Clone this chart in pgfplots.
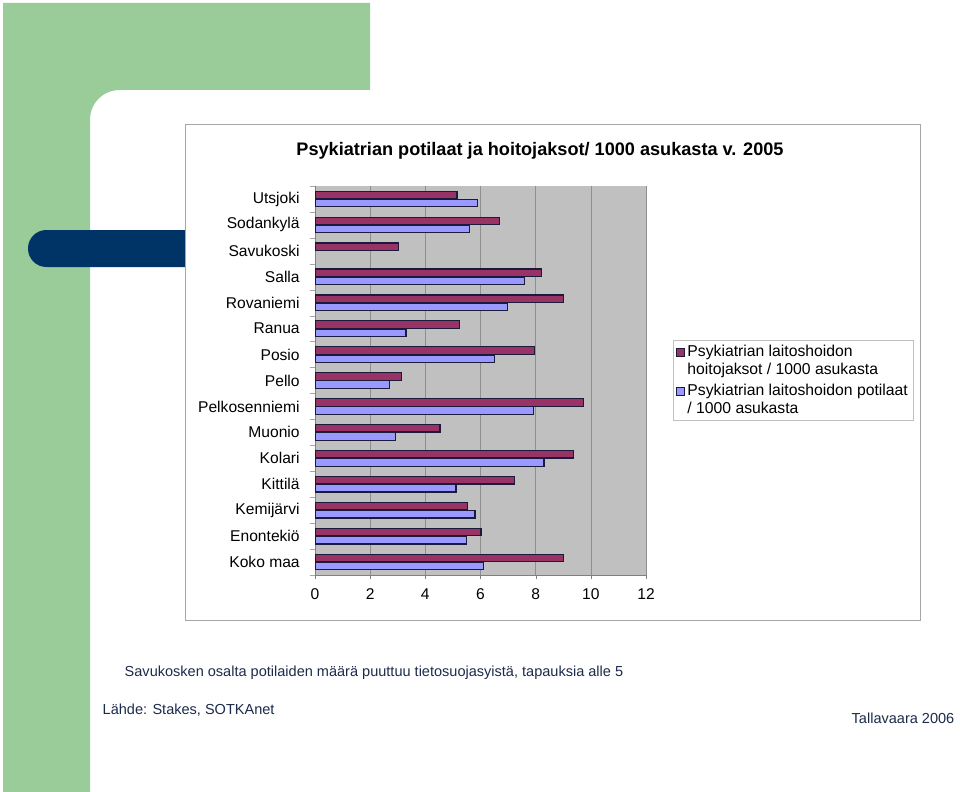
\documentclass[border=0pt]{standalone}
\usepackage{pgfplots}
\pgfplotsset{compat=1.18}
\usepackage{fontspec}
\setmainfont{Liberation Sans}
\definecolor{slidegreen}{HTML}{99CC99}
\definecolor{slideblue}{HTML}{003366}
\definecolor{barmaroon}{HTML}{993366}
\definecolor{barblue}{HTML}{9999FF}
\definecolor{plotgray}{HTML}{C0C0C0}
\definecolor{gridgray}{HTML}{8E8E8E}
\definecolor{barline}{HTML}{1A1A3A}
\definecolor{foottext}{HTML}{1C2B4A}
\begin{document}
\begin{tikzpicture}[x=0.75pt,y=-0.75pt]
% slide background
\fill[white] (0,0) rectangle (960,792);
\fill[slidegreen] (3,3) -- (370,3) -- (370,90) -- (120,90)
  .. controls (103,90) and (90,103) .. (90,120) -- (90,792) -- (3,792) -- cycle;
\fill[slideblue, rounded corners=13.8pt] (28,230) rectangle (230,267);
% chart area
\draw[fill=white, draw=gray!70] (185,124) rectangle (920,620);
\node[font=\bfseries\fontsize{13.6}{16}\selectfont] at (540,151)
  {Psykiatrian potilaat ja hoitojaksot/ 1000 asukasta v. 2005};
\coordinate (plotSW) at (315,575);

\begin{scope}[x=1pt,y=1pt]
\begin{axis}[
  at={(plotSW)}, anchor=south west,
  scale only axis, width=248.25pt, height=291.75pt,
  xbar, bar width=5.6pt,
  xmin=0, xmax=12, ymin=-0.5, ymax=14.5,
  xtick={0,2,...,12},
  ytick={0,...,14},
  yticklabels={Koko maa,Enontekiö,Kemijärvi,Kittilä,Kolari,Muonio,Pelkosenniemi,Pello,Posio,Ranua,Rovaniemi,Salla,Savukoski,Sodankylä,Utsjoki},
  minor ytick={-0.5,0.5,...,14.5},
  major y tick style={draw=none},
  minor y tick style={gray!70},
  x tick style={gray},
  tick align=outside,
  major tick length=3pt, minor tick length=4pt,
  xmajorgrids, grid style={gridgray, line width=0.5pt},
  axis background/.style={fill=plotgray},
  axis line style={gray},
  axis x line*=bottom, axis y line*=left,
  ticklabel style={font=\fontsize{11.7}{14}\selectfont},
  /pgf/number format/assume math mode=true,
  xticklabel style={yshift=-4pt},
  yticklabel style={xshift=-5pt},
  legend style={at={(1.0816,0.604)}, anchor=north west, draw=gray!50,
    font=\fontsize{11.8}{13.5}\selectfont, cells={align=left}, row sep=2pt,
    inner xsep=2pt, inner ysep=1.5pt},
  legend cell align=left,
  legend image code/.code={\draw[#1, line width=0.6pt] (0pt,3.2pt) rectangle (6pt,9.2pt);},
]
\addplot[fill=barmaroon, draw=barline, line width=0.9pt, bar shift=3.05pt] coordinates {
  (9.02,0) (6.02,1) (5.54,2) (7.22,3) (9.37,4) (4.53,5) (9.72,6) (3.13,7)
  (7.97,8) (5.25,9) (9.02,10) (8.22,11) (3.04,12) (6.69,13) (5.15,14)
};
\addlegendentry{Psykiatrian laitoshoidon\\hoitojaksot / 1000 asukasta}
\addplot[fill=barblue, draw=barline, line width=0.9pt, bar shift=-3.05pt] coordinates {
  (6.12,0) (5.49,1) (5.80,2) (5.11,3) (8.30,4) (2.91,5) (7.92,6) (2.69,7)
  (6.52,8) (3.30,9) (6.99,10) (7.60,11) (5.59,13) (5.90,14)
};
\addlegendentry{Psykiatrian laitoshoidon potilaat\\/ 1000 asukasta}
\end{axis}
\end{scope}

% footer texts
\node[anchor=west, text=foottext, font=\fontsize{10.9}{13}\selectfont] at (120,673)
  {Savukosken osalta potilaiden määrä puuttuu tietosuojasyistä, tapauksia alle 5};
\node[anchor=west, text=foottext, font=\fontsize{10.9}{13}\selectfont] at (98,710)
  {Lähde: Stakes, SOTKAnet};
\node[anchor=east, text=foottext, font=\fontsize{10.9}{13}\selectfont] at (959,718)
  {Tallavaara 2006};
\pgfresetboundingbox
\useasboundingbox (0,0) rectangle (960,792);
\end{tikzpicture}
\end{document}
